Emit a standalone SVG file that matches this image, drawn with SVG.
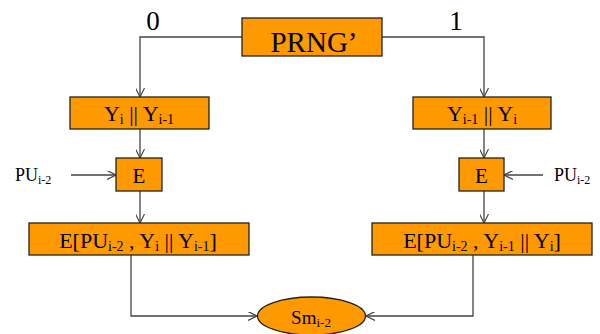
<svg xmlns="http://www.w3.org/2000/svg" width="600" height="334" viewBox="0 0 600 334">
<defs>
<style>
.box{fill:#FF9900;stroke:#222;stroke-width:1.3}
.t{fill:#000}
.c{fill:none;stroke:#444;stroke-width:1.3}
</style>
<marker id="ah" viewBox="0 0 10 10" refX="10" refY="5" markerWidth="9" markerHeight="9" orient="auto" markerUnits="userSpaceOnUse">
<path d="M0,0 L10,5 L0,10" fill="none" stroke="#444" stroke-width="1.3"/>
</marker>
</defs>
<rect width="600" height="334" fill="#fff"/>
<g font-family="Liberation Serif, DejaVu Serif, Times New Roman, serif">
<g id="connectors">
<path class="c" d="M242,37 H140 V97" marker-end="url(#ah)"/>
<path class="c" d="M382,37 H484 V97" marker-end="url(#ah)"/>
<path class="c" d="M140,129 V158" marker-end="url(#ah)"/>
<path class="c" d="M140,191 V223" marker-end="url(#ah)"/>
<path class="c" d="M484,129 V158" marker-end="url(#ah)"/>
<path class="c" d="M484,191 V223" marker-end="url(#ah)"/>
<path class="c" d="M71,175 H116" marker-end="url(#ah)"/>
<path class="c" d="M543,175 H504" marker-end="url(#ah)"/>
<path class="c" d="M131,255 V316 H257" marker-end="url(#ah)"/>
<path class="c" d="M473,255 V316 H366" marker-end="url(#ah)"/>
<text class="t" x="153" y="30" font-size="27" text-anchor="middle">0</text>
<text class="t" x="456" y="30" font-size="27" text-anchor="middle">1</text>
</g>
<g id="prng">
<rect class="box" x="242" y="18" width="140" height="38"/>
<text class="t" x="314" y="52" font-size="29" text-anchor="middle">PRNG’</text>
</g>
<g id="y-left">
<rect class="box" x="70" y="97" width="139" height="32"/>
<text class="t" x="139" y="121" font-size="22" text-anchor="middle">Y<tspan font-size="14" dy="3">i</tspan><tspan dy="-3"> || Y</tspan><tspan font-size="14" dy="3">i-1</tspan></text>
</g>
<g id="e-left">
<rect class="box" x="116" y="158" width="46" height="33"/>
<text class="t" x="139" y="183" font-size="21" text-anchor="middle">E</text>
</g>
<g id="pu-left">
<text class="t" x="15" y="181" font-size="18">PU<tspan font-size="12" dy="3">i-2</tspan></text>
</g>
<g id="enc-left">
<rect class="box" x="29" y="223" width="220" height="32"/>
<text class="t" x="138" y="248" font-size="22" text-anchor="middle">E[PU<tspan font-size="14" dy="3">i-2</tspan><tspan dy="-3"> , Y</tspan><tspan font-size="14" dy="3">i</tspan><tspan dy="-3"> || Y</tspan><tspan font-size="14" dy="3">i-1</tspan><tspan dy="-3">]</tspan></text>
</g>
<g id="y-right">
<rect class="box" x="413" y="97" width="138" height="32"/>
<text class="t" x="482" y="121" font-size="22" text-anchor="middle">Y<tspan font-size="14" dy="3">i-1</tspan><tspan dy="-3"> || Y</tspan><tspan font-size="14" dy="3">i</tspan></text>
</g>
<g id="e-right">
<rect class="box" x="459" y="158" width="45" height="33"/>
<text class="t" x="481.5" y="183" font-size="21" text-anchor="middle">E</text>
</g>
<g id="pu-right">
<text class="t" x="554" y="181" font-size="18">PU<tspan font-size="12" dy="3">i-2</tspan></text>
</g>
<g id="enc-right">
<rect class="box" x="372" y="223" width="220" height="32"/>
<text class="t" x="482" y="248" font-size="22" text-anchor="middle">E[PU<tspan font-size="14" dy="3">i-2</tspan><tspan dy="-3"> , Y</tspan><tspan font-size="14" dy="3">i-1</tspan><tspan dy="-3"> || Y</tspan><tspan font-size="14" dy="3">i</tspan><tspan dy="-3">]</tspan></text>
</g>
<g id="sm">
<ellipse class="box" cx="311.5" cy="316" rx="54" ry="19"/>
<text class="t" x="311" y="324" font-size="19" text-anchor="middle">Sm<tspan font-size="13" dy="3">i-2</tspan></text>
</g>
</g>
</svg>
